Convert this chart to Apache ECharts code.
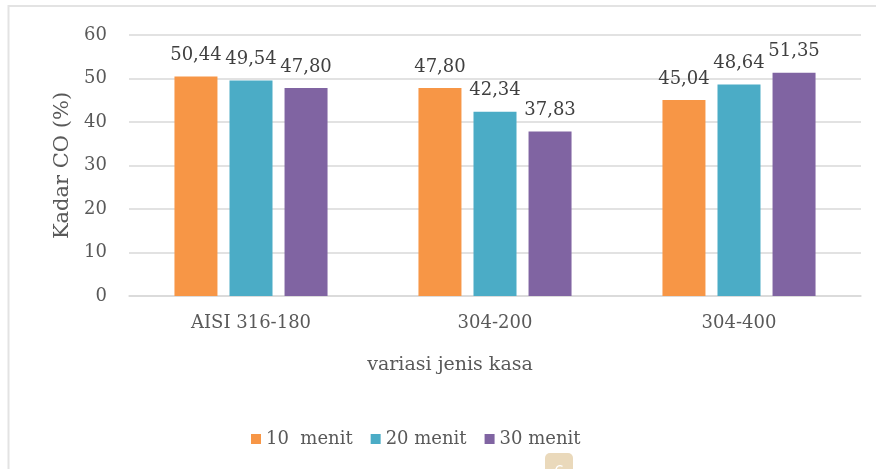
<!DOCTYPE html>
<html>
<head>
<meta charset="utf-8">
<script src="https://cdn.jsdelivr.net/npm/echarts@6/dist/echarts.min.js"></script>
<style>
  html, body { margin: 0; padding: 0; background: #ffffff; }
  #chart { width: 876px; height: 469px; }
</style>
</head>
<body>
<div id="chart"></div>
<script>
// Kadar CO per jenis kasa, tiga durasi pengukuran
const categories = ['AISI 316-180', '304-200', '304-400'];
const seriesNames = ['10  menit', '20 menit', '30 menit'];
const menit10 = [50.44, 47.80, 45.04];
const menit20 = [49.54, 42.34, 48.64];
const menit30 = [47.80, 37.83, 51.35];
const yTicks = { min: 0, max: 60, interval: 10 };

const colors = ['#F79646', '#4BACC6', '#8064A2'];
const serif = '"DejaVu Serif", "Liberation Serif", serif';

const fmtComma = v => v.toFixed(2).replace('.', ',');

function barSeries(name, data, color) {
  return {
    name: name,
    type: 'bar',
    data: data,
    barWidth: 43,
    barGap: '28%',
    itemStyle: { color: color },
    label: {
      show: true,
      position: 'top',
      distance: 12,
      fontFamily: serif,
      fontSize: 18,
      color: '#404040',
      formatter: p => fmtComma(p.value)
    }
  };
}

const chart = echarts.init(document.getElementById('chart'), null, { renderer: 'canvas' });
chart.setOption({
  animation: false,
  backgroundColor: '#ffffff',
  color: colors,
  grid: { left: 129, right: 15, top: 35, bottom: 173, containLabel: false },
  legend: {
    data: seriesNames,
    left: 246,
    top: 425,
    itemWidth: 10,
    itemHeight: 10,
    itemGap: 18,
    icon: 'rect',
    textStyle: { fontFamily: serif, fontSize: 18, color: '#595959' }
  },
  xAxis: {
    type: 'category',
    data: categories,
    name: 'variasi jenis kasa',
    nameLocation: 'middle',
    nameGap: 60,
    nameTextStyle: { fontFamily: serif, fontSize: 19, color: '#595959', padding: [0, 90, 0, 0] },
    axisLine: { lineStyle: { color: '#d9d9d9', width: 1.5 } },
    axisTick: { show: false },
    axisLabel: { fontFamily: serif, fontSize: 18, color: '#595959', margin: 18 }
  },
  yAxis: {
    type: 'value',
    min: yTicks.min,
    max: yTicks.max,
    interval: yTicks.interval,
    name: 'Kadar CO (%)',
    nameLocation: 'middle',
    nameGap: 56,
    nameTextStyle: { fontFamily: serif, fontSize: 21, color: '#595959' },
    axisLine: { show: false },
    axisTick: { show: false },
    axisLabel: { fontFamily: serif, fontSize: 18, color: '#595959', margin: 22 },
    splitLine: { lineStyle: { color: '#d9d9d9', width: 1.5 } }
  },
  series: [
    barSeries(seriesNames[0], menit10, colors[0]),
    barSeries(seriesNames[1], menit20, colors[1]),
    barSeries(seriesNames[2], menit30, colors[2])
  ],
  graphic: [
    {
      type: 'rect',
      shape: { x: 8.5, y: 6, width: 900, height: 520 },
      style: { fill: 'none', stroke: '#e3e3e3', lineWidth: 2 },
      silent: true
    },
    {
      type: 'rect',
      shape: { x: 545, y: 453, width: 28, height: 30, r: 5 },
      style: { fill: '#ead9bb' },
      silent: true
    },
    {
      type: 'text',
      x: 559,
      y: 465,
      style: { text: '6', fill: '#ffffff', font: '16px "DejaVu Sans", sans-serif', align: 'center', verticalAlign: 'top' },
      silent: true
    }
  ]
});
</script>
</body>
</html>
